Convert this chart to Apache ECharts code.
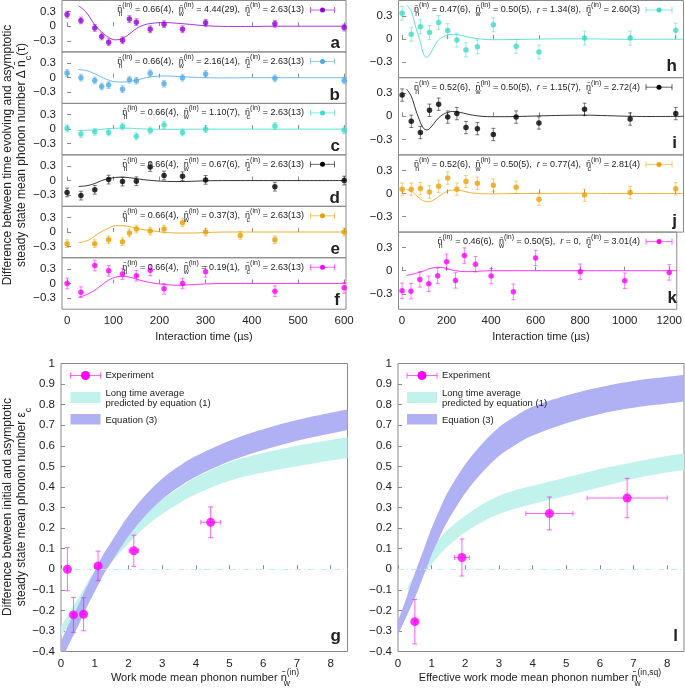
<!DOCTYPE html>
<html><head><meta charset="utf-8">
<script src="https://cdn.jsdelivr.net/npm/echarts@6/dist/echarts.min.js"></script>
<style>html,body{margin:0;padding:0;background:#fff}#c{width:685px;height:688px}</style>
</head><body><div id="c"></div>
<script>
// ================= DATA =================
// --- left column (a-f): interaction time (µs) vs Δn_c
const tA = [0,30,60,75,90,120,135,150,180,210,250,300,450,600];
const vA = [0.24,0.12,-0.035,-0.21,-0.33,-0.29,0.147,0.084,-0.063,0.042,-0.063,0.07,0.05,-0.028];
const tB = [0,30,60,75,90,120,135,150,180,210,250,300,450,600];
const vB = [0.098,0,-0.056,-0.18,-0.153,-0.237,-0.042,-0.063,0.09,-0.126,0,0.077,-0.014,-0.056];
const tC = [0,30,60,90,120,150,180,210,250,300,450,600];
const vC = [0.014,-0.10,-0.056,-0.07,0.056,-0.147,-0.028,0.084,-0.07,0,0.063,-0.021];
const tD = [0,30,60,90,120,150,180,210,250,300,450,600];
const vD = [-0.244,-0.31,-0.19,0.02,-0.02,-0.014,0.28,0.105,0.09,0.014,-0.126,0];
const tE = [0,60,90,120,135,150,180,210,250,300,375,450,600];
const vE = [-0.24,-0.24,-0.16,-0.2,-0.02,0.06,0.02,0.06,0.19,0,-0.07,-0.16,0];
const tF = [0,30,60,90,120,150,180,210,250,300,450,600];
const vF = [0,-0.18,0.37,0.26,0.195,0.16,0.27,-0.11,0,0.24,-0.16,-0.09];
const errLeft = [0.07,0.07,0.07,0.09,0.08,0.11];           // a..f
// fitted curves (left)
const fitTL = [25,40,50,60,75,90,105,120,135,150,165,180,210,240,270,300,350,400,450,500,604];
const fitA = [0.42,0.30,0.17,0.03,-0.12,-0.23,-0.28,-0.25,-0.16,-0.05,0.02,0.055,0.075,0.06,0.035,0.01,-0.005,-0.005,0,0,0];
const fitB = [0.17,0.15,0.12,0.08,0.01,-0.05,-0.085,-0.09,-0.08,-0.05,-0.015,0.015,0.035,0.025,0.01,0,-0.005,0,0,0,0];
const fitC = [-0.03,-0.025,-0.02,-0.015,-0.005,0.01,0.018,0.02,0.018,0.012,0.005,0,-0.005,-0.004,-0.002,0,0,0,0,0,0];
const fitD = [-0.12,-0.11,-0.09,-0.06,0,0.04,0.065,0.07,0.06,0.04,0.02,0.005,-0.015,-0.02,-0.015,-0.005,0,0,0,0,0];
const fitE = [-0.22,-0.19,-0.15,-0.08,0.01,0.08,0.13,0.13,0.11,0.08,0.05,0.03,-0.005,-0.02,-0.02,-0.01,0,0,0,0,0];
const fitF = [-0.28,-0.24,-0.19,-0.14,-0.03,0.07,0.13,0.15,0.13,0.09,0.05,0.02,-0.02,-0.035,-0.025,-0.01,0,0,0,0,0];

// --- right column (h-k)
const tR = [0,40,80,120,160,200,240,280,330,400,500,600,800,1000,1200];
const vH = [0.335,0.064,0.16,0.086,0.215,0.11,-0.013,-0.14,-0.10,0.185,-0.094,-0.167,0.013,0.013,0.116];
const vI = [0.275,-0.065,-0.21,0.078,0.157,-0.01,0.035,-0.146,-0.16,-0.236,-0.01,-0.086,0.09,-0.035,0.035];
const vJ = [0.056,0.056,0.064,0.02,0.094,0.2,0.056,0.155,0.133,0.107,0.08,-0.073,-0.021,0.013,0.06];
const vK = [-0.26,-0.265,-0.113,-0.17,-0.065,0.117,-0.126,0.196,0.083,-0.07,-0.274,0.165,-0.013,-0.13,-0.022];
const errRight = [0.09,0.08,0.08,0.10];                    // h..k
const fitTR = [20,40,60,80,90,100,110,120,140,160,180,200,220,240,270,300,350,400,500,600,700,800,900,1000,1100,1234];
const fitH = [0.44,0.36,0.15,-0.04,-0.16,-0.225,-0.235,-0.20,-0.10,-0.01,0.03,0.055,0.062,0.058,0.04,0.02,0,-0.008,-0.005,0,0.003,0.003,0,-0.003,-0.002,-0.002];
const fitI = [0.35,0.26,0.08,-0.08,-0.14,-0.17,-0.175,-0.16,-0.09,-0.02,0.025,0.05,0.062,0.058,0.04,0.02,0,-0.005,-0.003,0.005,0.012,0.015,0.008,0,-0.003,0];
const fitJ = [0.05,0.03,-0.02,-0.07,-0.09,-0.1,-0.105,-0.105,-0.08,-0.04,0,0.03,0.045,0.045,0.03,0.01,-0.003,-0.005,0,0,0.003,0.003,0,0,0,0];
const fitK = [-0.06,-0.05,-0.035,-0.02,-0.01,0,0.012,0.025,0.038,0.043,0.04,0.028,0.012,0,-0.01,-0.012,-0.006,0,0,0,0,0,0,0,0,0];

// --- panel g
const gX = [0.19,0.37,0.67,1.10,2.16,4.44];
const gY = [0,-0.222,-0.219,0.016,0.09,0.228];
const gXErr = [0.01,0.03,0.06,0.07,0.14,0.29];
const gYErr = [0.105,0.085,0.08,0.072,0.076,0.075];
const bandXg = [-0.1,0,0.25,0.5,0.75,1,1.25,1.5,2,2.5,3,3.5,4,5,6,7,8,8.6];
const eq3gLow  = [-0.49,-0.45,-0.36,-0.28,-0.19,-0.11,-0.03,0.035,0.16,0.26,0.34,0.40,0.45,0.525,0.58,0.625,0.66,0.68];
const eq3gHigh = [-0.39,-0.35,-0.26,-0.18,-0.09,-0.01,0.07,0.135,0.26,0.36,0.44,0.50,0.55,0.625,0.68,0.725,0.76,0.78];
const ltagLow  = [-0.335,-0.325,-0.265,-0.20,-0.13,-0.065,-0.01,0.035,0.125,0.205,0.268,0.32,0.365,0.43,0.47,0.50,0.528,0.543];
const ltagHigh = [-0.285,-0.276,-0.21,-0.145,-0.075,-0.005,0.05,0.097,0.195,0.275,0.34,0.395,0.446,0.52,0.565,0.60,0.628,0.643];

// --- panel l
const lX = [0.50,1.90,4.50,6.81];
const lY = [-0.255,0.057,0.271,0.346];
const lXErr = [0.03,0.22,0.70,1.19];
const lYErr = [0.108,0.09,0.08,0.096];
const bandXl = [-0.1,0,0.25,0.5,0.75,1,1.25,1.5,2,2.5,3,3.5,4,5,6,7,8,8.6];
const eq3lLow  = [-0.36,-0.32,-0.23,-0.14,-0.035,0.07,0.16,0.24,0.37,0.47,0.55,0.605,0.65,0.71,0.755,0.785,0.805,0.818];
const eq3lHigh = [-0.29,-0.25,-0.14,-0.02,0.09,0.20,0.295,0.38,0.51,0.61,0.69,0.745,0.79,0.845,0.885,0.915,0.935,0.948];
const ltaXl = [0.3,0.5,0.75,1,1.25,1.5,2,2.5,3,3.5,4,5,6,7,8,8.6];
const ltalLow  = [-0.14,-0.09,-0.03,0.024,0.073,0.114,0.18,0.23,0.268,0.295,0.317,0.357,0.398,0.44,0.47,0.485];
const ltalHigh = [-0.08,-0.03,0.03,0.097,0.15,0.195,0.26,0.315,0.357,0.385,0.406,0.446,0.487,0.52,0.55,0.565];

// --- ticks
const xTicksL = [0,100,200,300,400,500,600];
const xTicksR = [0,200,400,600,800,1000,1200];
const yTicksTop = [-0.3,0,0.3];
const xTicksB = [0,1,2,3,4,5,6,7,8];
const yTicksB = [-0.4,-0.3,-0.2,-0.1,0,0.1,0.2,0.3,0.4,0.5,0.6,0.7,0.8,0.9,1];

// --- texts
const annLeft = [
 [['n̄','h','(in)',' = 0.66(4),  '],['n̄','w','(in)',' = 4.44(29),  '],['n̄','c','(in)',' = 2.63(13)']],
 [['n̄','h','(in)',' = 0.66(4),  '],['n̄','w','(in)',' = 2.16(14),  '],['n̄','c','(in)',' = 2.63(13)']],
 [['n̄','h','(in)',' = 0.66(4),  '],['n̄','w','(in)',' = 1.10(7),  '],['n̄','c','(in)',' = 2.63(13)']],
 [['n̄','h','(in)',' = 0.66(4),  '],['n̄','w','(in)',' = 0.67(6),  '],['n̄','c','(in)',' = 2.63(13)']],
 [['n̄','h','(in)',' = 0.66(4),  '],['n̄','w','(in)',' = 0.37(3),  '],['n̄','c','(in)',' = 2.63(13)']],
 [['n̄','h','(in)',' = 0.66(4),  '],['n̄','w','(in)',' = 0.19(1),  '],['n̄','c','(in)',' = 2.63(13)']]
];
const annRight = [
 [['n̄','h','(in)',' = 0.47(6),  '],['n̄','w','(in)',' = 0.50(5),  '],['r',null,null,' = 1.34(8),  '],['n̄','c','(in)',' = 2.60(3)']],
 [['n̄','h','(in)',' = 0.52(6),  '],['n̄','w','(in)',' = 0.50(5),  '],['r',null,null,' = 1.15(7),  '],['n̄','c','(in)',' = 2.72(4)']],
 [['n̄','h','(in)',' = 0.52(6),  '],['n̄','w','(in)',' = 0.50(5),  '],['r',null,null,' = 0.77(4),  '],['n̄','c','(in)',' = 2.81(4)']],
 [['n̄','h','(in)',' = 0.46(6),  '],['n̄','w','(in)',' = 0.50(5),  '],['r',null,null,' = 0,  '],['n̄','c','(in)',' = 3.01(4)']]
];
const lettersLeft = ['a','b','c','d','e','f'];
const lettersRight = ['h','i','j','k'];
const legendLabels = ['Experiment','Long time average','predicted by equation (1)','Equation (3)'];

// ================= RENDER =================
const FONT = "'Liberation Sans', Arial, Helvetica, sans-serif";
const TXT = '#222';
const AXC = '#8a8a8a';
const colLeft = ['#9400D3','#4FA9E3','#3ED9C8','#000000','#E69F00','#FF00FF'];
const colRight = ['#3ED9C8','#000000','#EEA10A','#FF00FF'];
const CYAN_BAND = '#C2F2EC', PURPLE_BAND = '#B0B0F5', MAG = '#FF00FF';

function richDefs(fs){
  const lh = Math.round(fs*1.8);
  const s = Math.round(fs*0.75*2)/2;
  return {
    m:{fontSize:fs,fontFamily:FONT,fill:TXT,lineHeight:lh},
    it:{fontSize:fs,fontFamily:FONT,fontStyle:'italic',fill:TXT,lineHeight:lh},
    sb:{fontSize:s,fontFamily:FONT,fill:TXT,verticalAlign:'bottom',width:0},
    sp:{fontSize:s,fontFamily:FONT,fill:TXT,verticalAlign:'top'},
    sb2:{fontSize:s,fontFamily:FONT,fill:TXT,verticalAlign:'bottom'}
  };
}
function annStr(segs){
  return segs.map(s=>{
    let r = s[1] ? '{m|'+s[0]+'}' : '{it|'+s[0]+'}';
    if (s[1]) r += '{sb|'+s[1]+'}{sp|'+s[2]+'}';
    return r + '{m|'+s[3]+'}';
  }).join('');
}
const fmtNum = v => String(Math.round(v*10)/10).replace('-','\u2212');

const grids=[], xAxes=[], yAxes=[], series=[], graphics=[];
function axis(min,max,ticks,showLabel,extra){
  return Object.assign({type:'value',min,max,axisLine:{show:false},splitLine:{show:false},
    axisTick:{show:true,inside:true,length:4,lineStyle:{color:AXC},customValues:ticks},
    axisLabel:{show:showLabel,customValues:ticks,formatter:fmtNum,fontFamily:FONT,fontSize:11.5,color:TXT,margin:6}},extra||{});
}
function addGrid(g,xa,ya){
  grids.push(Object.assign({show:true,borderColor:AXC,borderWidth:1,backgroundColor:'transparent'},g));
  const i=grids.length-1;
  xAxes.push(Object.assign({gridIndex:i},xa)); yAxes.push(Object.assign({gridIndex:i},ya));
  return i;
}
function errSeries(gi,pts,color,cap,op){
  return {type:'custom',xAxisIndex:gi,yAxisIndex:gi,data:pts,encode:{x:0,y:1},z:3,silent:true,
    renderItem:function(params,api){
      const x=api.value(0),y=api.value(1),ex=api.value(2),ey=api.value(3);
      const st={stroke:color,lineWidth:1,opacity:op};
      const ch=[];
      if(ey>0){const a=api.coord([x,y+ey]),b=api.coord([x,y-ey]);
        ch.push({type:'line',shape:{x1:a[0],y1:a[1],x2:b[0],y2:b[1]},style:st});
        ch.push({type:'line',shape:{x1:a[0]-cap,y1:a[1],x2:a[0]+cap,y2:a[1]},style:st});
        ch.push({type:'line',shape:{x1:b[0]-cap,y1:b[1],x2:b[0]+cap,y2:b[1]},style:st});}
      if(ex>0){const a=api.coord([x-ex,y]),b=api.coord([x+ex,y]);
        ch.push({type:'line',shape:{x1:a[0],y1:a[1],x2:b[0],y2:b[1]},style:st});
        ch.push({type:'line',shape:{x1:a[0],y1:a[1]-cap,x2:a[0],y2:a[1]+cap},style:st});
        ch.push({type:'line',shape:{x1:b[0],y1:b[1]-cap,x2:b[0],y2:b[1]+cap},style:st});}
      return {type:'group',children:ch};
    }};
}
// Catmull-Rom path segments through screen points
function crPath(P){
  let d='';
  for(let i=0;i<P.length-1;i++){
    const p0=P[i-1]||P[i], p1=P[i], p2=P[i+1], p3=P[i+2]||P[i+1];
    const c1=[p1[0]+(p2[0]-p0[0])/6, p1[1]+(p2[1]-p0[1])/6];
    const c2=[p2[0]-(p3[0]-p1[0])/6, p2[1]-(p3[1]-p1[1])/6];
    d+=' C'+c1[0].toFixed(2)+' '+c1[1].toFixed(2)+' '+c2[0].toFixed(2)+' '+c2[1].toFixed(2)+' '+p2[0].toFixed(2)+' '+p2[1].toFixed(2);
  }
  return d;
}
function bandSeries(gi,xs,lo,hi,fill,z){
  return {type:'custom',xAxisIndex:gi,yAxisIndex:gi,data:xs.map((x,i)=>[x,lo[i],hi[i]]),encode:{x:0,y:[1,2]},z:z,silent:true,
    renderItem:function(params,api){
      if(params.dataIndex!==0) return null;
      const L=xs.map((x,i)=>api.coord([x,lo[i]]));
      const H=xs.map((x,i)=>api.coord([x,hi[i]])).reverse();
      const d='M'+L[0][0]+' '+L[0][1]+crPath(L)+' L'+H[0][0]+' '+H[0][1]+crPath(H)+' Z';
      const cs=params.coordSys;
      return {type:'path',shape:{pathData:d},style:{fill:fill},
        clipPath:{type:'rect',shape:{x:cs.x,y:cs.y,width:cs.width,height:cs.height}}};
    }};
}
function legendSym(xc,y,color,half,r,op){
  return {type:'group',x:xc,y:y,z:100,silent:true,children:[
    {type:'line',shape:{x1:-half,y1:0,x2:half,y2:0},style:{stroke:color,lineWidth:1,opacity:op}},
    {type:'line',shape:{x1:-half,y1:-3,x2:-half,y2:3},style:{stroke:color,lineWidth:1,opacity:op}},
    {type:'line',shape:{x1:half,y1:-3,x2:half,y2:3},style:{stroke:color,lineWidth:1,opacity:op}},
    {type:'circle',shape:{cx:0,cy:0,r:r},style:{fill:color}}
  ]};
}
function txt(x,y,text,opt){
  return {type:'text',x:x,y:y,z:100,silent:true,rotation:opt.rot||0,style:Object.assign({text:text,fill:TXT,
    fontFamily:FONT,fontSize:opt.fs||11,fontWeight:opt.fw||'normal',textAlign:opt.align||'center',
    align:opt.align||'center',textVerticalAlign:'middle',verticalAlign:'middle'},opt.rich?{rich:opt.rich}:{})};
}

// ---- left panels
const leftT=[tA,tB,tC,tD,tE,tF], leftV=[vA,vB,vC,vD,vE,vF], leftFit=[fitA,fitB,fitC,fitD,fitE,fitF];
const LH=51.45;
for(let p=0;p<6;p++){
  const top=0.5+p*LH, last=(p===5);
  const gi=addGrid({left:62,top:top,width:284,height:LH},
    axis(-11,604,xTicksL,last),
    axis(-0.53,0.53,yTicksTop,true));
  const c=colLeft[p];
  series.push({type:'line',xAxisIndex:gi,yAxisIndex:gi,data:fitTL.map((t,i)=>[t,leftFit[p][i]]),smooth:0.4,
    showSymbol:false,silent:true,lineStyle:{color:c,width:1,opacity:0.8},z:2});
  series.push(errSeries(gi,leftT[p].map((t,i)=>[t,leftV[p][i],0,errLeft[p]]),c,2,0.5));
  series.push({type:'scatter',xAxisIndex:gi,yAxisIndex:gi,data:leftT[p].map((t,i)=>[t,leftV[p][i]]),
    symbolSize:5.5,itemStyle:{color:c},silent:true,z:4});
  graphics.push(txt(304,top+9.5,annStr(annLeft[p]),{align:'right',rich:richDefs(9)}));
  graphics.push(legendSym(322.5,top+9.5,c,12,2.5,0.6));
  graphics.push(txt(340,top+43,lettersLeft[p],{align:'right',fs:17,fw:'bold'}));
}
// ---- right panels
const rightV=[vH,vI,vJ,vK], rightFit=[fitH,fitI,fitJ,fitK];
const RH=77.2;
for(let p=0;p<4;p++){
  const top=0.5+p*RH, last=(p===3);
  const gi=addGrid({left:398.5,top:top,width:285,height:RH},
    axis(-16,1234,xTicksR,last),
    axis(-0.5,0.5,yTicksTop,true,{}));
  const c=colRight[p];
  series.push({type:'line',xAxisIndex:gi,yAxisIndex:gi,data:fitTR.map((t,i)=>[t,rightFit[p][i]]),smooth:0.4,
    showSymbol:false,silent:true,lineStyle:{color:c,width:1,opacity:0.8},z:2});
  series.push(errSeries(gi,tR.map((t,i)=>[t,rightV[p][i],0,errRight[p]]),c,2,0.5));
  series.push({type:'scatter',xAxisIndex:gi,yAxisIndex:gi,data:tR.map((t,i)=>[t,rightV[p][i]]),
    symbolSize:5.5,itemStyle:{color:c},silent:true,z:4});
  graphics.push(txt(640,top+9.5,annStr(annRight[p]),{align:'right',rich:richDefs(9)}));
  graphics.push(legendSym(659,top+9.5,c,13,2.5,0.6));
  graphics.push(txt(677,top+66,lettersRight[p],{align:'right',fs:17,fw:'bold'}));
}
// ---- bottom panels
function bottomPanel(left,width,bx1,lo1,hi1,bx2,lo2,hi2,px,py,pxe,pye,letterX,letter,legX){
  const gi=addGrid({left:left,top:363.5,width:width,height:288},
    axis(0,8.5,xTicksB,true,{}),
    axis(-0.4,1,yTicksB,true,{}));
  series.push({type:'line',xAxisIndex:gi,yAxisIndex:gi,data:[],silent:true,
    markLine:{silent:true,symbol:'none',label:{show:false},lineStyle:{color:'#BDEFEF',width:1,type:[6,3,1,3]},data:[{yAxis:0}]},z:1});
  series.push(bandSeries(gi,bx1,lo1,hi1,CYAN_BAND,2));
  series.push(bandSeries(gi,bx2,lo2,hi2,PURPLE_BAND,3));
  series.push(errSeries(gi,px.map((x,i)=>[x,py[i],pxe[i],pye[i]]),MAG,2.5,0.6));
  series.push({type:'scatter',xAxisIndex:gi,yAxisIndex:gi,data:px.map((x,i)=>[x,py[i]]),symbolSize:9,
    itemStyle:{color:MAG},silent:true,z:5});
  graphics.push(txt(letterX,636,letter,{align:'right',fs:17,fw:'bold'}));
  graphics.push(legendSym(legX+15,375.5,MAG,15,4.5,0.6));
  graphics.push({type:'rect',z:100,shape:{x:legX,y:392,width:30,height:11},style:{fill:CYAN_BAND},silent:true});
  graphics.push({type:'rect',z:100,shape:{x:legX,y:414,width:30,height:10.5},style:{fill:PURPLE_BAND},silent:true});
  graphics.push(txt(legX+35,375.5,legendLabels[0],{align:'left',fs:9.5}));
  graphics.push(txt(legX+35,393,legendLabels[1],{align:'left',fs:9.5}));
  graphics.push(txt(legX+35,403.5,legendLabels[2],{align:'left',fs:9.5}));
  graphics.push(txt(legX+35,420,legendLabels[3],{align:'left',fs:9.5}));
}
bottomPanel(61,286.5,bandXg,ltagLow,ltagHigh,bandXg,eq3gLow,eq3gHigh,gX,gY,gXErr,gYErr,341,'g',70.5);
bottomPanel(398,286,ltaXl,ltalLow,ltalHigh,bandXl,eq3lLow,eq3lHigh,lX,lY,lXErr,lYErr,678,'l',407);

// ---- axis titles
const R11=richDefs(11), R12=richDefs(12);
graphics.push(txt(204,337,'{m|Interaction time (µs)}',{rich:R11}));
graphics.push(txt(541,337,'{m|Interaction time (µs)}',{rich:R11}));
graphics.push(txt(205,678,'{m|Work mode mean phonon number n̄}{sb|w}{sp|(in)}',{rich:R11}));
graphics.push(txt(540,678,'{m|Effective work mode mean phonon number n̄}{sb|w}{sp|(in,sq)}',{rich:R11}));
graphics.push(txt(8,155,'{m|Difference between time evolving and asymptotic}',{rich:R12,rot:Math.PI/2}));
graphics.push(txt(22,155,'{m|steady state mean phonon number Δ n̄}{sb2|c}{m|(τ)}',{rich:R12,rot:Math.PI/2}));
graphics.push(txt(8,507,'{m|Difference between initial and asymptotic}',{rich:R12,rot:Math.PI/2}));
graphics.push(txt(22,507,'{m|steady state mean phonon number ε}{sb2|c}',{rich:R12,rot:Math.PI/2}));

const chart = echarts.init(document.getElementById('c'),null,{renderer:'canvas',width:685,height:688});
chart.setOption({animation:false,backgroundColor:'#fff',grid:grids,xAxis:xAxes,yAxis:yAxes,series:series,graphic:{elements:graphics}});
</script></body></html>
